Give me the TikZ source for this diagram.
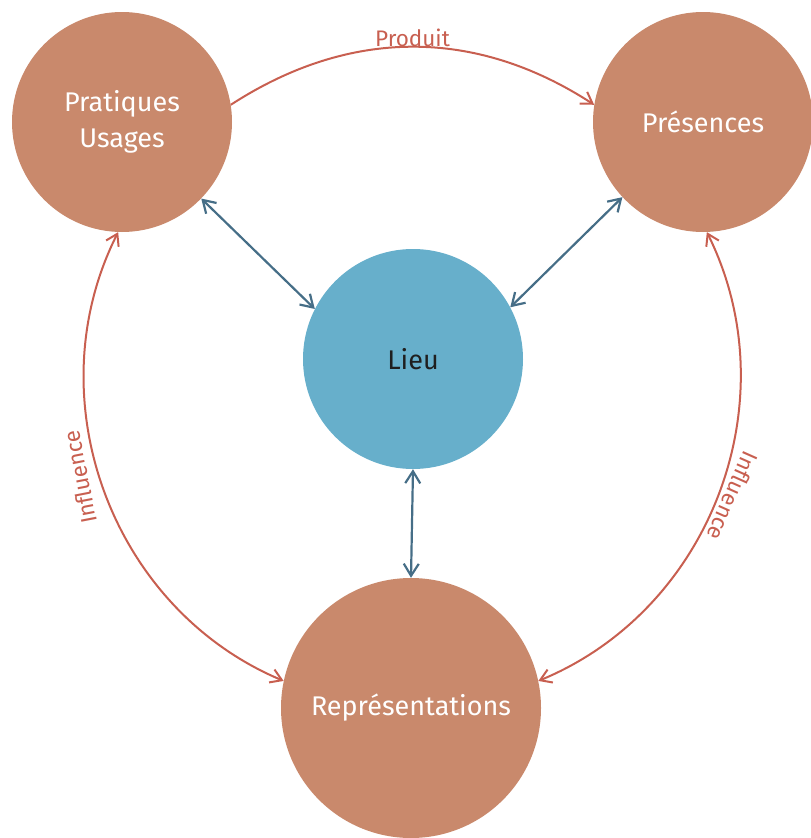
\documentclass[tikz,border=0pt]{standalone}
\usepackage{fontspec}
\setmainfont{Fira Sans}
\usetikzlibrary{arrows.meta}
\definecolor{terre}{HTML}{C9896C}
\definecolor{ciel}{HTML}{67AFCB}
\definecolor{acier}{HTML}{466E87}
\definecolor{brique}{HTML}{C85F50}
\begin{document}
\begin{tikzpicture}[x=1pt,y=-1pt,
  pole/.style={circle, fill=terre, draw=none, minimum size=220pt, inner sep=0pt,
    text=white, font=\fontsize{27}{36}\selectfont, align=center},
  centre/.style={pole, fill=ciel, text=black!88},
  lien/.style={draw=acier, line width=2.2pt, {Straight Barb[length=12pt,width=15pt]}-{Straight Barb[length=12pt,width=15pt]}},
  cycle/.style={draw=brique, line width=2pt},
  barbe/.tip={Straight Barb[length=11pt,width=14pt]},
  etiquette/.style={text=brique, font=\fontsize{22.5}{24}\selectfont, inner sep=0pt}
]
\clip (0,0) rectangle (811,838);

% the four poles
\node[pole] (pu) at (122,122) {Pratiques\\Usages};
\node[pole] (pr) at (703,122) {Présences};
\node[centre] (li) at (413,359) {Lieu};
\node[pole, minimum size=260pt] (re) at (411,708) {Représentations};

% links with the centre
\draw[lien] (pu.-44) -- (li.153);
\draw[lien] (pr.223) -- (li.28);
\draw[lien] (li.270) -- (re.90);

% outer cycle
\draw[cycle, -barbe] (pu.9) to[bend left=33] node[etiquette, pos=0.5, above=-1pt] {Produit} (pr.171);
\draw[cycle, barbe-barbe] (re.168) to[bend left=47] (pu.268);
\draw[cycle, barbe-barbe] (re.12) to[bend right=47] (pr.272);

% side labels
\node[etiquette, rotate=101] (il) at (80,477) {Influence};
\node[etiquette, rotate=-114] (ir) at (733,496) {Influence};
\end{tikzpicture}
\end{document}
